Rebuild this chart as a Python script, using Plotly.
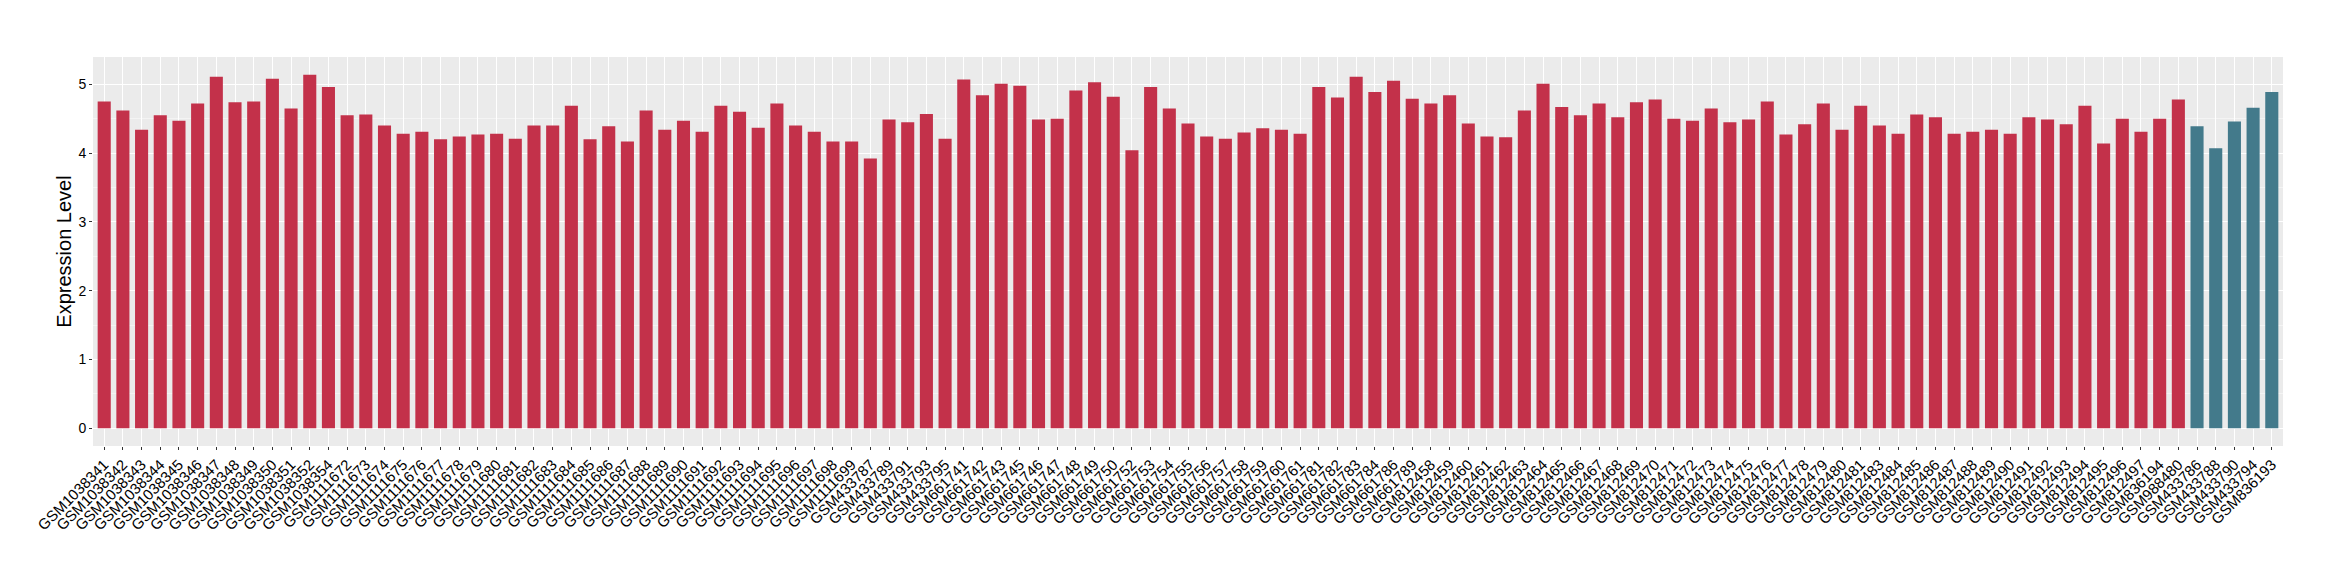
import plotly.graph_objects as go

red_samples = (
    ["GSM10383%02d" % i for i in [41, 42, 43, 44, 45, 46, 47, 48, 49, 50, 51, 52, 54]]
    + ["GSM11116%02d" % i for i in range(72, 100)]
    + ["GSM433787", "GSM433789", "GSM433791", "GSM433793", "GSM433795"]
    + ["GSM6617%02d" % i for i in [41, 42, 43, 45, 46, 47, 48, 49, 50, 52, 53, 54, 55, 56, 57,
                                    58, 59, 60, 61, 81, 82, 83, 84, 86, 89]]
    + ["GSM8124%02d" % i for i in list(range(58, 82)) + list(range(83, 98))]
    + ["GSM836194", "GSM988480"]
)
red_values = [
    4.75, 4.62, 4.34, 4.55, 4.47, 4.72, 5.11, 4.74, 4.75, 5.08, 4.65, 5.14, 4.96,
    4.55, 4.56, 4.40, 4.28, 4.31, 4.20, 4.24, 4.27, 4.28, 4.21, 4.40, 4.40, 4.69,
    4.20, 4.39, 4.17, 4.62, 4.34, 4.47, 4.31, 4.69, 4.60, 4.37, 4.72, 4.40, 4.31,
    4.17, 4.17,
    3.92, 4.49, 4.45, 4.57, 4.21,
    5.07, 4.84, 5.01, 4.98, 4.49, 4.50, 4.91, 5.03, 4.82, 4.04, 4.96, 4.65, 4.43,
    4.24, 4.21, 4.30, 4.36, 4.34, 4.28, 4.96, 4.81, 5.11, 4.89, 5.05, 4.79,
    4.72, 4.84, 4.43, 4.24, 4.23, 4.62, 5.01, 4.67, 4.55, 4.72, 4.52, 4.74, 4.78,
    4.50, 4.47, 4.65, 4.45, 4.49, 4.75, 4.27, 4.42, 4.72, 4.34, 4.69,
    4.40, 4.28, 4.56, 4.52, 4.28, 4.31, 4.34, 4.28, 4.52, 4.49, 4.42, 4.69, 4.14,
    4.50, 4.31,
    4.50, 4.78,
]
blue_samples = ["GSM433786", "GSM433788", "GSM433790", "GSM433794", "GSM836193"]
blue_values = [4.39, 4.07, 4.46, 4.66, 4.89]

categories = red_samples + blue_samples
y_ticks = [0, 1, 2, 3, 4, 5]

RED = "#C3314A"
BLUE = "#437A8B"

fig = go.Figure()
fig.add_trace(go.Bar(x=red_samples, y=red_values, width=0.7,
                     marker=dict(color=RED, line=dict(width=0)), showlegend=False))
fig.add_trace(go.Bar(x=blue_samples, y=blue_values, width=0.7,
                     marker=dict(color=BLUE, line=dict(width=0)), showlegend=False))

ymax = max(red_values + blue_values)
pad = 0.05 * ymax
n = len(categories)

# page body has an 8px default margin; figure size/margins compensate for it
fig.update_layout(
    width=2332, height=572,
    margin=dict(l=85, r=57, t=49, b=134),
    paper_bgcolor="white",
    plot_bgcolor="#EBEBEB",
    barmode="overlay",
    font=dict(family="Liberation Sans, Arial, sans-serif", color="black"),
    xaxis=dict(
        type="category", categoryorder="array", categoryarray=categories,
        range=[-0.6, n - 1 + 0.6],
        tickangle=-45, tickfont=dict(size=15, color="black"),
        showgrid=True, gridcolor="white", gridwidth=1.2,
        ticks="outside", ticklen=3, tickcolor="#333333", tickwidth=1,
        zeroline=False, showline=False, automargin=False,
    ),
    yaxis=dict(
        range=[-pad, ymax + pad],
        tickvals=y_ticks, ticktext=[str(v) for v in y_ticks],
        tickfont=dict(size=14, color="black"),
        showgrid=True, gridcolor="white", gridwidth=1.2,
        minor=dict(dtick=0.5, tick0=0.5, showgrid=True, gridcolor="#F4F4F4", gridwidth=0.6),
        ticks="outside", ticklen=3, tickcolor="#333333", tickwidth=1,
        zeroline=False, showline=False, automargin=False,
        title=dict(text="Expression Level", font=dict(size=20, color="black"), standoff=1),
    ),
)

fig.write_html("out.html")
